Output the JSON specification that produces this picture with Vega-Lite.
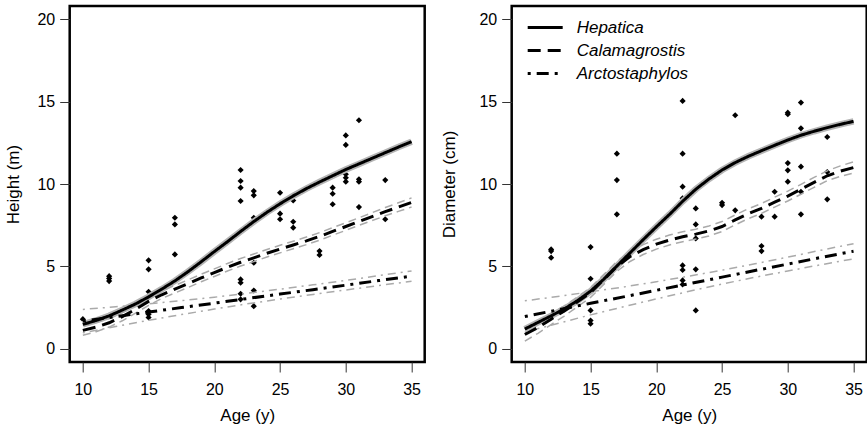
{
"$schema": "https://vega.github.io/schema/vega-lite/v6.json",
"background": "white",
"padding": {"left": 2.7, "top": 4, "right": 0, "bottom": 0},
"bounds": "flush",
"spacing": 87,
"config": {
  "font": "Liberation Sans",
  "view": {"stroke": "black", "strokeWidth": 2.5},
  "axis": {"grid": false, "domain": false, "tickSize": 10, "tickColor": "#333", "tickWidth": 1, "labelFontSize": 16, "labelColor": "black", "titleFontSize": 17, "titleFontWeight": "normal", "titleColor": "black", "labelFlush": false, "labelOverlap": false},
  "axisX": {"labelPadding": 10, "titlePadding": 10},
  "axisY": {"labelPadding": 5}
},
"datasets": {
  "hpts": [
    {"age":10,"v":1.8},{"age":12,"v":4.41},{"age":12,"v":4.27},{"age":12,"v":4.11},
    {"age":15,"v":5.37},{"age":15,"v":4.82},{"age":15,"v":3.46},{"age":15,"v":2.29},{"age":15,"v":2.09},{"age":15,"v":1.9},
    {"age":17,"v":7.95},{"age":17,"v":7.55},{"age":17,"v":5.73},
    {"age":22,"v":10.85},{"age":22,"v":10.18},{"age":22,"v":9.78},{"age":22,"v":8.97},{"age":22,"v":4.21},{"age":22,"v":4.01},{"age":22,"v":3.34},{"age":22,"v":3.0},
    {"age":23,"v":9.57},{"age":23,"v":9.31},{"age":23,"v":7.95},{"age":23,"v":5.22},{"age":23,"v":3.54},{"age":23,"v":2.59},
    {"age":25,"v":9.47},{"age":25,"v":8.2},{"age":25,"v":7.86},
    {"age":26,"v":9.0},{"age":26,"v":7.71},{"age":26,"v":7.35},
    {"age":28,"v":5.93},{"age":28,"v":5.69},
    {"age":29,"v":9.78},{"age":29,"v":9.41},{"age":29,"v":8.77},
    {"age":30,"v":12.95},{"age":30,"v":12.37},{"age":30,"v":10.59},{"age":30,"v":10.38},{"age":30,"v":10.14},
    {"age":31,"v":13.87},{"age":31,"v":11.2},{"age":31,"v":10.29},{"age":31,"v":10.14},{"age":31,"v":8.6},
    {"age":33,"v":10.24},{"age":33,"v":7.86}
  ],
  "dpts": [
    {"age":12,"v":6.03},{"age":12,"v":5.93},{"age":12,"v":5.53},
    {"age":15,"v":6.17},{"age":15,"v":4.25},{"age":15,"v":2.33},{"age":15,"v":1.72},{"age":15,"v":1.52},
    {"age":17,"v":11.84},{"age":17,"v":10.24},{"age":17,"v":8.16},
    {"age":22,"v":15.04},{"age":22,"v":11.84},{"age":22,"v":9.84},{"age":22,"v":9.13},{"age":22,"v":5.06},{"age":22,"v":4.78},{"age":22,"v":4.15},{"age":22,"v":3.9},
    {"age":23,"v":9.68},{"age":23,"v":8.52},{"age":23,"v":7.55},{"age":23,"v":6.7},{"age":23,"v":4.82},{"age":23,"v":2.33},
    {"age":25,"v":8.86},{"age":25,"v":8.72},
    {"age":26,"v":14.17},{"age":26,"v":8.4},
    {"age":28,"v":8.02},{"age":28,"v":6.24},{"age":28,"v":5.93},
    {"age":29,"v":9.53},{"age":29,"v":8.02},
    {"age":30,"v":14.33},{"age":30,"v":14.23},{"age":30,"v":11.27},{"age":30,"v":10.83},{"age":30,"v":10.14},
    {"age":31,"v":14.94},{"age":31,"v":13.38},{"age":31,"v":11.05},{"age":31,"v":9.53},{"age":31,"v":8.16},
    {"age":33,"v":12.85},{"age":33,"v":10.73},{"age":33,"v":9.07}
  ],
  "hfit": [
    {"sp":"Hepatica","age":10,"v":1.48},{"sp":"Hepatica","age":11,"v":1.72},{"sp":"Hepatica","age":12,"v":2.0},{"sp":"Hepatica","age":13,"v":2.35},{"sp":"Hepatica","age":14,"v":2.72},{"sp":"Hepatica","age":15,"v":3.15},{"sp":"Hepatica","age":16,"v":3.62},{"sp":"Hepatica","age":17,"v":4.12},{"sp":"Hepatica","age":18,"v":4.68},{"sp":"Hepatica","age":19,"v":5.28},{"sp":"Hepatica","age":20,"v":5.9},{"sp":"Hepatica","age":21,"v":6.5},{"sp":"Hepatica","age":22,"v":7.12},{"sp":"Hepatica","age":23,"v":7.72},{"sp":"Hepatica","age":24,"v":8.28},{"sp":"Hepatica","age":25,"v":8.8},{"sp":"Hepatica","age":26,"v":9.28},{"sp":"Hepatica","age":27,"v":9.72},{"sp":"Hepatica","age":28,"v":10.12},{"sp":"Hepatica","age":29,"v":10.5},{"sp":"Hepatica","age":30,"v":10.88},{"sp":"Hepatica","age":31,"v":11.22},{"sp":"Hepatica","age":32,"v":11.56},{"sp":"Hepatica","age":33,"v":11.9},{"sp":"Hepatica","age":34,"v":12.24},{"sp":"Hepatica","age":35,"v":12.57},
    {"sp":"Calamagrostis","age":10,"v":1.12,"lo":0.82,"hi":1.42},{"sp":"Calamagrostis","age":11,"v":1.32,"lo":1.04,"hi":1.6},{"sp":"Calamagrostis","age":12,"v":1.58,"lo":1.32,"hi":1.84},{"sp":"Calamagrostis","age":13,"v":1.95,"lo":1.7,"hi":2.2},{"sp":"Calamagrostis","age":14,"v":2.4,"lo":2.16,"hi":2.64},{"sp":"Calamagrostis","age":15,"v":2.88,"lo":2.64,"hi":3.12},{"sp":"Calamagrostis","age":16,"v":3.28,"lo":3.05,"hi":3.51},{"sp":"Calamagrostis","age":17,"v":3.62,"lo":3.39,"hi":3.85},{"sp":"Calamagrostis","age":18,"v":3.95,"lo":3.72,"hi":4.18},{"sp":"Calamagrostis","age":19,"v":4.3,"lo":4.07,"hi":4.53},{"sp":"Calamagrostis","age":20,"v":4.62,"lo":4.39,"hi":4.85},{"sp":"Calamagrostis","age":21,"v":4.95,"lo":4.72,"hi":5.18},{"sp":"Calamagrostis","age":22,"v":5.25,"lo":5.02,"hi":5.48},{"sp":"Calamagrostis","age":23,"v":5.52,"lo":5.29,"hi":5.75},{"sp":"Calamagrostis","age":24,"v":5.8,"lo":5.57,"hi":6.03},{"sp":"Calamagrostis","age":25,"v":6.05,"lo":5.82,"hi":6.28},{"sp":"Calamagrostis","age":26,"v":6.3,"lo":6.07,"hi":6.53},{"sp":"Calamagrostis","age":27,"v":6.55,"lo":6.32,"hi":6.78},{"sp":"Calamagrostis","age":28,"v":6.82,"lo":6.59,"hi":7.05},{"sp":"Calamagrostis","age":29,"v":7.12,"lo":6.89,"hi":7.35},{"sp":"Calamagrostis","age":30,"v":7.42,"lo":7.19,"hi":7.65},{"sp":"Calamagrostis","age":31,"v":7.72,"lo":7.49,"hi":7.95},{"sp":"Calamagrostis","age":32,"v":8.02,"lo":7.78,"hi":8.26},{"sp":"Calamagrostis","age":33,"v":8.32,"lo":8.07,"hi":8.57},{"sp":"Calamagrostis","age":34,"v":8.6,"lo":8.34,"hi":8.86},{"sp":"Calamagrostis","age":35,"v":8.88,"lo":8.6,"hi":9.16},
    {"sp":"Arctostaphylos","age":10,"v":1.68,"lo":0.97,"hi":2.39},{"sp":"Arctostaphylos","age":12.5,"v":1.95,"lo":1.35,"hi":2.55},{"sp":"Arctostaphylos","age":15,"v":2.23,"lo":1.73,"hi":2.73},{"sp":"Arctostaphylos","age":17.5,"v":2.5,"lo":2.08,"hi":2.92},{"sp":"Arctostaphylos","age":20,"v":2.77,"lo":2.41,"hi":3.13},{"sp":"Arctostaphylos","age":22.5,"v":3.05,"lo":2.73,"hi":3.37},{"sp":"Arctostaphylos","age":25,"v":3.32,"lo":3.02,"hi":3.62},{"sp":"Arctostaphylos","age":27.5,"v":3.59,"lo":3.3,"hi":3.88},{"sp":"Arctostaphylos","age":30,"v":3.86,"lo":3.57,"hi":4.15},{"sp":"Arctostaphylos","age":32.5,"v":4.14,"lo":3.84,"hi":4.44},{"sp":"Arctostaphylos","age":35,"v":4.41,"lo":4.1,"hi":4.72}
  ],
  "dfit": [
    {"sp":"Hepatica","age":10,"v":1.2},{"sp":"Hepatica","age":11,"v":1.6},{"sp":"Hepatica","age":12,"v":2.0},{"sp":"Hepatica","age":13,"v":2.42},{"sp":"Hepatica","age":14,"v":2.92},{"sp":"Hepatica","age":15,"v":3.5},{"sp":"Hepatica","age":16,"v":4.22},{"sp":"Hepatica","age":17,"v":5.02},{"sp":"Hepatica","age":18,"v":5.82},{"sp":"Hepatica","age":19,"v":6.62},{"sp":"Hepatica","age":20,"v":7.4},{"sp":"Hepatica","age":21,"v":8.15},{"sp":"Hepatica","age":22,"v":8.95},{"sp":"Hepatica","age":23,"v":9.68},{"sp":"Hepatica","age":24,"v":10.3},{"sp":"Hepatica","age":25,"v":10.85},{"sp":"Hepatica","age":26,"v":11.3},{"sp":"Hepatica","age":27,"v":11.68},{"sp":"Hepatica","age":28,"v":12.02},{"sp":"Hepatica","age":29,"v":12.35},{"sp":"Hepatica","age":30,"v":12.67},{"sp":"Hepatica","age":31,"v":12.96},{"sp":"Hepatica","age":32,"v":13.2},{"sp":"Hepatica","age":33,"v":13.42},{"sp":"Hepatica","age":34,"v":13.62},{"sp":"Hepatica","age":35,"v":13.8},
    {"sp":"Calamagrostis","age":10,"v":0.87,"lo":0.47,"hi":1.27},{"sp":"Calamagrostis","age":11,"v":1.3,"lo":0.94,"hi":1.66},{"sp":"Calamagrostis","age":12,"v":1.8,"lo":1.47,"hi":2.13},{"sp":"Calamagrostis","age":13,"v":2.3,"lo":1.99,"hi":2.61},{"sp":"Calamagrostis","age":14,"v":2.85,"lo":2.55,"hi":3.15},{"sp":"Calamagrostis","age":15,"v":3.42,"lo":3.12,"hi":3.72},{"sp":"Calamagrostis","age":16,"v":4.2,"lo":3.9,"hi":4.5},{"sp":"Calamagrostis","age":17,"v":5.0,"lo":4.7,"hi":5.3},{"sp":"Calamagrostis","age":18,"v":5.6,"lo":5.3,"hi":5.9},{"sp":"Calamagrostis","age":19,"v":6.02,"lo":5.72,"hi":6.32},{"sp":"Calamagrostis","age":20,"v":6.35,"lo":6.05,"hi":6.65},{"sp":"Calamagrostis","age":21,"v":6.6,"lo":6.3,"hi":6.9},{"sp":"Calamagrostis","age":22,"v":6.8,"lo":6.5,"hi":7.1},{"sp":"Calamagrostis","age":23,"v":6.96,"lo":6.66,"hi":7.26},{"sp":"Calamagrostis","age":24,"v":7.15,"lo":6.85,"hi":7.45},{"sp":"Calamagrostis","age":25,"v":7.42,"lo":7.12,"hi":7.72},{"sp":"Calamagrostis","age":26,"v":7.82,"lo":7.52,"hi":8.12},{"sp":"Calamagrostis","age":27,"v":8.2,"lo":7.9,"hi":8.5},{"sp":"Calamagrostis","age":28,"v":8.52,"lo":8.22,"hi":8.82},{"sp":"Calamagrostis","age":29,"v":8.9,"lo":8.6,"hi":9.2},{"sp":"Calamagrostis","age":30,"v":9.27,"lo":8.97,"hi":9.57},{"sp":"Calamagrostis","age":31,"v":9.68,"lo":9.38,"hi":9.98},{"sp":"Calamagrostis","age":32,"v":10.1,"lo":9.8,"hi":10.4},{"sp":"Calamagrostis","age":33,"v":10.5,"lo":10.2,"hi":10.8},{"sp":"Calamagrostis","age":34,"v":10.78,"lo":10.46,"hi":11.1},{"sp":"Calamagrostis","age":35,"v":11.0,"lo":10.66,"hi":11.34},
    {"sp":"Arctostaphylos","age":10,"v":1.96,"lo":1.01,"hi":2.91},{"sp":"Arctostaphylos","age":12.5,"v":2.36,"lo":1.54,"hi":3.18},{"sp":"Arctostaphylos","age":15,"v":2.76,"lo":2.06,"hi":3.46},{"sp":"Arctostaphylos","age":17.5,"v":3.15,"lo":2.55,"hi":3.75},{"sp":"Arctostaphylos","age":20,"v":3.55,"lo":3.03,"hi":4.07},{"sp":"Arctostaphylos","age":22.5,"v":3.95,"lo":3.49,"hi":4.41},{"sp":"Arctostaphylos","age":25,"v":4.35,"lo":3.93,"hi":4.77},{"sp":"Arctostaphylos","age":27.5,"v":4.75,"lo":4.34,"hi":5.16},{"sp":"Arctostaphylos","age":30,"v":5.14,"lo":4.72,"hi":5.56},{"sp":"Arctostaphylos","age":32.5,"v":5.54,"lo":5.1,"hi":5.98},{"sp":"Arctostaphylos","age":35,"v":5.92,"lo":5.46,"hi":6.38}
  ]
},
"hconcat": [
  {
    "width": 355, "height": 356,
    "encoding": {
      "x": {"field": "age", "type": "quantitative", "scale": {"domain": [9, 36], "nice": false, "zero": false}, "axis": {"values": [10, 15, 20, 25, 30, 35], "title": "Age (y)"}},
      "y": {"field": "v", "type": "quantitative", "scale": {"domain": [-0.8, 20.8], "nice": false, "zero": false}, "axis": {"values": [0, 5, 10, 15, 20], "title": "Height (m)", "titlePadding": 14}}
    },
    "layer": [
      {"data": {"name": "hpts"}, "mark": {"type": "point", "shape": "diamond", "filled": true, "color": "black", "size": 38, "opacity": 1}},
      {"data": {"name": "hfit"}, "transform": [{"filter": {"field": "sp", "equal": "Hepatica"}}], "mark": {"type": "line", "color": "#b4b4b4", "strokeWidth": 6.5}},
      {"data": {"name": "hfit"}, "transform": [{"filter": {"field": "sp", "equal": "Calamagrostis"}}, {"fold": ["lo", "hi"], "as": ["bk", "v"]}], "mark": {"type": "line", "color": "#aaaaaa", "strokeWidth": 1.5, "strokeDash": [8, 5]}, "encoding": {"detail": {"field": "bk"}}},
      {"data": {"name": "hfit"}, "transform": [{"filter": {"field": "sp", "equal": "Arctostaphylos"}}, {"fold": ["lo", "hi"], "as": ["bk", "v"]}], "mark": {"type": "line", "color": "#aaaaaa", "strokeWidth": 1.5, "strokeDash": [2, 5, 8, 5]}, "encoding": {"detail": {"field": "bk"}}},
      {"data": {"name": "hfit"}, "mark": {"type": "line", "color": "black", "strokeWidth": 3}, "encoding": {"strokeDash": {"field": "sp", "type": "nominal", "scale": {"domain": ["Hepatica", "Calamagrostis", "Arctostaphylos"], "range": [[1, 0], [13, 7], [3, 6, 12, 6]]}, "legend": null}}}
    ]
  },
  {
    "width": 355, "height": 356,
    "encoding": {
      "x": {"field": "age", "type": "quantitative", "scale": {"domain": [9, 36], "nice": false, "zero": false}, "axis": {"values": [10, 15, 20, 25, 30, 35], "title": "Age (y)"}},
      "y": {"field": "v", "type": "quantitative", "scale": {"domain": [-0.8, 20.8], "nice": false, "zero": false}, "axis": {"values": [0, 5, 10, 15, 20], "title": "Diameter (cm)", "titlePadding": 20}}
    },
    "layer": [
      {"data": {"name": "dpts"}, "mark": {"type": "point", "shape": "diamond", "filled": true, "color": "black", "size": 38, "opacity": 1}},
      {"data": {"name": "dfit"}, "transform": [{"filter": {"field": "sp", "equal": "Hepatica"}}], "mark": {"type": "line", "color": "#b4b4b4", "strokeWidth": 6.5}},
      {"data": {"name": "dfit"}, "transform": [{"filter": {"field": "sp", "equal": "Calamagrostis"}}, {"fold": ["lo", "hi"], "as": ["bk", "v"]}], "mark": {"type": "line", "color": "#aaaaaa", "strokeWidth": 1.5, "strokeDash": [8, 5]}, "encoding": {"detail": {"field": "bk"}}},
      {"data": {"name": "dfit"}, "transform": [{"filter": {"field": "sp", "equal": "Arctostaphylos"}}, {"fold": ["lo", "hi"], "as": ["bk", "v"]}], "mark": {"type": "line", "color": "#aaaaaa", "strokeWidth": 1.5, "strokeDash": [2, 5, 8, 5]}, "encoding": {"detail": {"field": "bk"}}},
      {"data": {"name": "dfit"}, "mark": {"type": "line", "color": "black", "strokeWidth": 3}, "encoding": {"strokeDash": {"field": "sp", "type": "nominal", "scale": {"domain": ["Hepatica", "Calamagrostis", "Arctostaphylos"], "range": [[1, 0], [13, 7], [3, 6, 12, 6]]}, "legend": {"title": null, "orient": "none", "legendX": 25, "legendY": 13, "padding": 0, "symbolType": "M-2.5,0H2.5", "symbolSize": 196, "symbolStrokeWidth": 3, "symbolStrokeColor": "black", "symbolFillColor": "transparent", "labelFontStyle": "italic", "labelFontSize": 17, "labelColor": "black", "labelOffset": 23, "rowPadding": 5}}}}
    ]
  }
],
"resolve": {"scale": {"strokeDash": "independent"}, "legend": {"strokeDash": "independent"}}
}
